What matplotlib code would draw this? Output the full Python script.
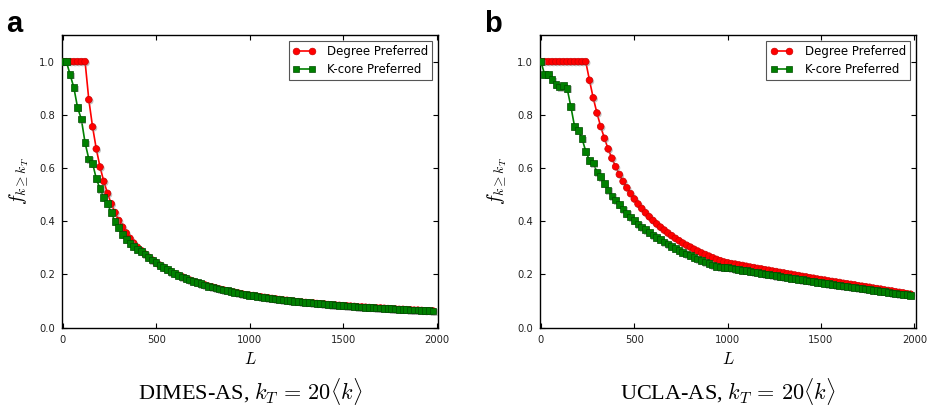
import matplotlib
matplotlib.use("Agg")
import matplotlib.pyplot as plt
import matplotlib.patheffects as pe
from matplotlib.lines import Line2D

plt.rcParams['mathtext.fontset'] = 'cm'
plt.rcParams['font.family'] = ['DejaVu Sans']

# ---------------- data ----------------
L = [0, 20, 40, 60, 80, 100, 120, 140, 160, 180,
     200, 220, 240, 260, 280, 300, 320, 340, 360, 380,
     400, 420, 440, 460, 480, 500, 520, 540, 560, 580,
     600, 620, 640, 660, 680, 700, 720, 740, 760, 780,
     800, 820, 840, 860, 880, 900, 920, 940, 960, 980,
     1000, 1020, 1040, 1060, 1080, 1100, 1120, 1140, 1160, 1180,
     1200, 1220, 1240, 1260, 1280, 1300, 1320, 1340, 1360, 1380,
     1400, 1420, 1440, 1460, 1480, 1500, 1520, 1540, 1560, 1580,
     1600, 1620, 1640, 1660, 1680, 1700, 1720, 1740, 1760, 1780,
     1800, 1820, 1840, 1860, 1880, 1900, 1920, 1940, 1960, 1980]

dimes_degree = [1.0, 1.0, 1.0, 1.0, 1.0, 1.0, 1.0, 0.857, 0.755, 0.672,
                0.604, 0.550, 0.505, 0.466, 0.433, 0.403, 0.378, 0.356, 0.336, 0.318,
                0.302, 0.290, 0.277, 0.265, 0.254, 0.244, 0.235, 0.226, 0.218, 0.210,
                0.203, 0.197, 0.191, 0.185, 0.179, 0.174, 0.169, 0.165, 0.161, 0.156,
                0.153, 0.149, 0.145, 0.142, 0.139, 0.136, 0.133, 0.130, 0.127, 0.124,
                0.122, 0.121, 0.118, 0.116, 0.114, 0.112, 0.110, 0.108, 0.106, 0.104,
                0.103, 0.101, 0.099, 0.098, 0.096, 0.095, 0.094, 0.093, 0.091, 0.090,
                0.089, 0.087, 0.086, 0.085, 0.084, 0.083, 0.082, 0.081, 0.080, 0.078,
                0.078, 0.077, 0.076, 0.075, 0.074, 0.074, 0.073, 0.072, 0.071, 0.070,
                0.069, 0.069, 0.068, 0.067, 0.066, 0.066, 0.065, 0.064, 0.064, 0.063]

dimes_kcore = [1.0, 1.0, 0.951, 0.902, 0.827, 0.784, 0.695, 0.634, 0.618, 0.560,
               0.522, 0.489, 0.466, 0.432, 0.400, 0.376, 0.351, 0.332, 0.317, 0.305,
               0.295, 0.287, 0.277, 0.265, 0.254, 0.244, 0.235, 0.226, 0.218, 0.210,
               0.203, 0.197, 0.191, 0.185, 0.179, 0.174, 0.169, 0.165, 0.161, 0.156,
               0.153, 0.149, 0.145, 0.142, 0.139, 0.136, 0.133, 0.130, 0.127, 0.124,
               0.122, 0.121, 0.118, 0.116, 0.114, 0.112, 0.110, 0.108, 0.106, 0.104,
               0.103, 0.101, 0.099, 0.098, 0.096, 0.095, 0.094, 0.093, 0.091, 0.090,
               0.089, 0.087, 0.086, 0.085, 0.084, 0.083, 0.082, 0.081, 0.080, 0.078,
               0.078, 0.077, 0.076, 0.075, 0.074, 0.074, 0.073, 0.072, 0.071, 0.070,
               0.069, 0.069, 0.068, 0.067, 0.066, 0.066, 0.065, 0.064, 0.064, 0.063]

ucla_degree = [1.0, 1.0, 1.0, 1.0, 1.0, 1.0, 1.0, 1.0, 1.0, 1.0,
               1.0, 1.0, 1.0, 0.930, 0.864, 0.807, 0.756, 0.712, 0.672, 0.637,
               0.605, 0.576, 0.550, 0.526, 0.504, 0.484, 0.465, 0.448, 0.432, 0.417,
               0.403, 0.390, 0.378, 0.367, 0.356, 0.346, 0.336, 0.327, 0.318, 0.310,
               0.303, 0.295, 0.288, 0.281, 0.275, 0.269, 0.263, 0.257, 0.252, 0.247,
               0.244, 0.241, 0.239, 0.236, 0.234, 0.231, 0.228, 0.226, 0.223, 0.221,
               0.218, 0.216, 0.213, 0.211, 0.208, 0.206, 0.203, 0.201, 0.198, 0.196,
               0.193, 0.191, 0.188, 0.186, 0.183, 0.181, 0.179, 0.176, 0.174, 0.172,
               0.170, 0.167, 0.165, 0.163, 0.161, 0.158, 0.156, 0.154, 0.152, 0.149,
               0.147, 0.145, 0.142, 0.140, 0.138, 0.135, 0.133, 0.131, 0.128, 0.126]

ucla_kcore = [1.0, 0.951, 0.951, 0.932, 0.914, 0.905, 0.910, 0.900, 0.832, 0.757,
              0.742, 0.711, 0.663, 0.629, 0.619, 0.585, 0.567, 0.541, 0.518, 0.495,
              0.480, 0.462, 0.446, 0.430, 0.416, 0.402, 0.390, 0.379, 0.368, 0.358,
              0.348, 0.340, 0.331, 0.322, 0.315, 0.306, 0.298, 0.291, 0.283, 0.277,
              0.271, 0.264, 0.258, 0.252, 0.247, 0.241, 0.236, 0.231, 0.228, 0.227,
              0.226, 0.224, 0.221, 0.219, 0.216, 0.214, 0.212, 0.209, 0.207, 0.204,
              0.202, 0.200, 0.198, 0.195, 0.193, 0.191, 0.189, 0.186, 0.184, 0.182,
              0.180, 0.177, 0.175, 0.173, 0.171, 0.169, 0.167, 0.165, 0.163, 0.161,
              0.159, 0.157, 0.155, 0.153, 0.151, 0.149, 0.147, 0.145, 0.143, 0.141,
              0.139, 0.137, 0.135, 0.133, 0.131, 0.129, 0.127, 0.126, 0.124, 0.122]

panels = [
    ("a", "DIMES-AS", dimes_degree, dimes_kcore),
    ("b", "UCLA-AS", ucla_degree, ucla_kcore),
]
series_labels = ["Degree Preferred", "K-core Preferred"]
x_ticks = [0, 500, 1000, 1500, 2000]
y_ticks = [0.0, 0.2, 0.4, 0.6, 0.8, 1.0]

# ---------------- figure ----------------
W, H = 934, 408
fig = plt.figure(figsize=(W / 100, H / 100), dpi=100)

RED, RED_E = '#ff0000', '#cc0000'
GRN, GRN_E = '#008000', '#004d00'
shadow = [pe.SimplePatchShadow(offset=(1.0, -1.0), shadow_rgbFace='#888888', alpha=0.5), pe.Normal()]

axes_px = [(61.7, 438.3), (540.0, 916.0)]
top_px, bot_px = 35.0, 327.7

for (letter, name, deg, kc), (x0, x1) in zip(panels, axes_px):
    ax = fig.add_axes([x0 / W, 1 - bot_px / H, (x1 - x0) / W, (bot_px - top_px) / H])
    ax.plot(L, deg, '-', color=RED, lw=1.2, zorder=2)
    ax.plot(L, deg, 'o', ms=4.8, mfc=RED, mec=RED_E, mew=0.5, zorder=3, path_effects=shadow)
    ax.plot(L, kc, '-', color=GRN, lw=1.2, zorder=4)
    ax.plot(L, kc, 's', ms=4.8, mfc=GRN, mec=GRN_E, mew=0.5, zorder=5, path_effects=shadow)

    ax.set_xlim(-5, 2009)
    ax.set_ylim(0, 1.1)
    ax.set_xticks(x_ticks)
    ax.set_yticks(y_ticks)
    ax.set_yticklabels([f"{v:.1f}" for v in y_ticks])
    ax.tick_params(direction='in', top=True, right=True, length=3.6, width=0.8,
                   labelsize=7.2, pad=5, colors='black', labelcolor='#222222')
    for s in ax.spines.values():
        s.set_linewidth(1.0)

    ax.set_xlabel(r'$L$', fontsize=12, labelpad=4)
    ax.set_ylabel(r'$f_{k\geq k_T}$', fontsize=14, labelpad=6)

    handles = [
        Line2D([], [], color=RED, lw=1.2, marker='o', ms=4.8, mfc=RED, mec=RED_E, mew=0.5),
        Line2D([], [], color=GRN, lw=1.2, marker='s', ms=4.8, mfc=GRN, mec=GRN_E, mew=0.5),
    ]
    leg = ax.legend(handles, series_labels, loc='upper right', fontsize=8.5, numpoints=2,
                    fancybox=False, framealpha=1, edgecolor='#555555', handlelength=1.9,
                    borderaxespad=0.5, handletextpad=1.0, borderpad=0.35, labelspacing=0.45)
    leg.get_frame().set_linewidth(0.8)

    fig.text((x0 - 56) / W, 1 - 31.5 / H, letter, fontsize=21, fontweight='bold',
             family='Liberation Sans', ha='left', va='baseline')
    fig.text((x0 + x1) / 2 / W, 1 - 400 / H, name + r', $k_T\,=\,20\langle k\rangle$',
             fontsize=16, family='Liberation Serif', ha='center', va='baseline')

fig.savefig('out.png', dpi=100)
